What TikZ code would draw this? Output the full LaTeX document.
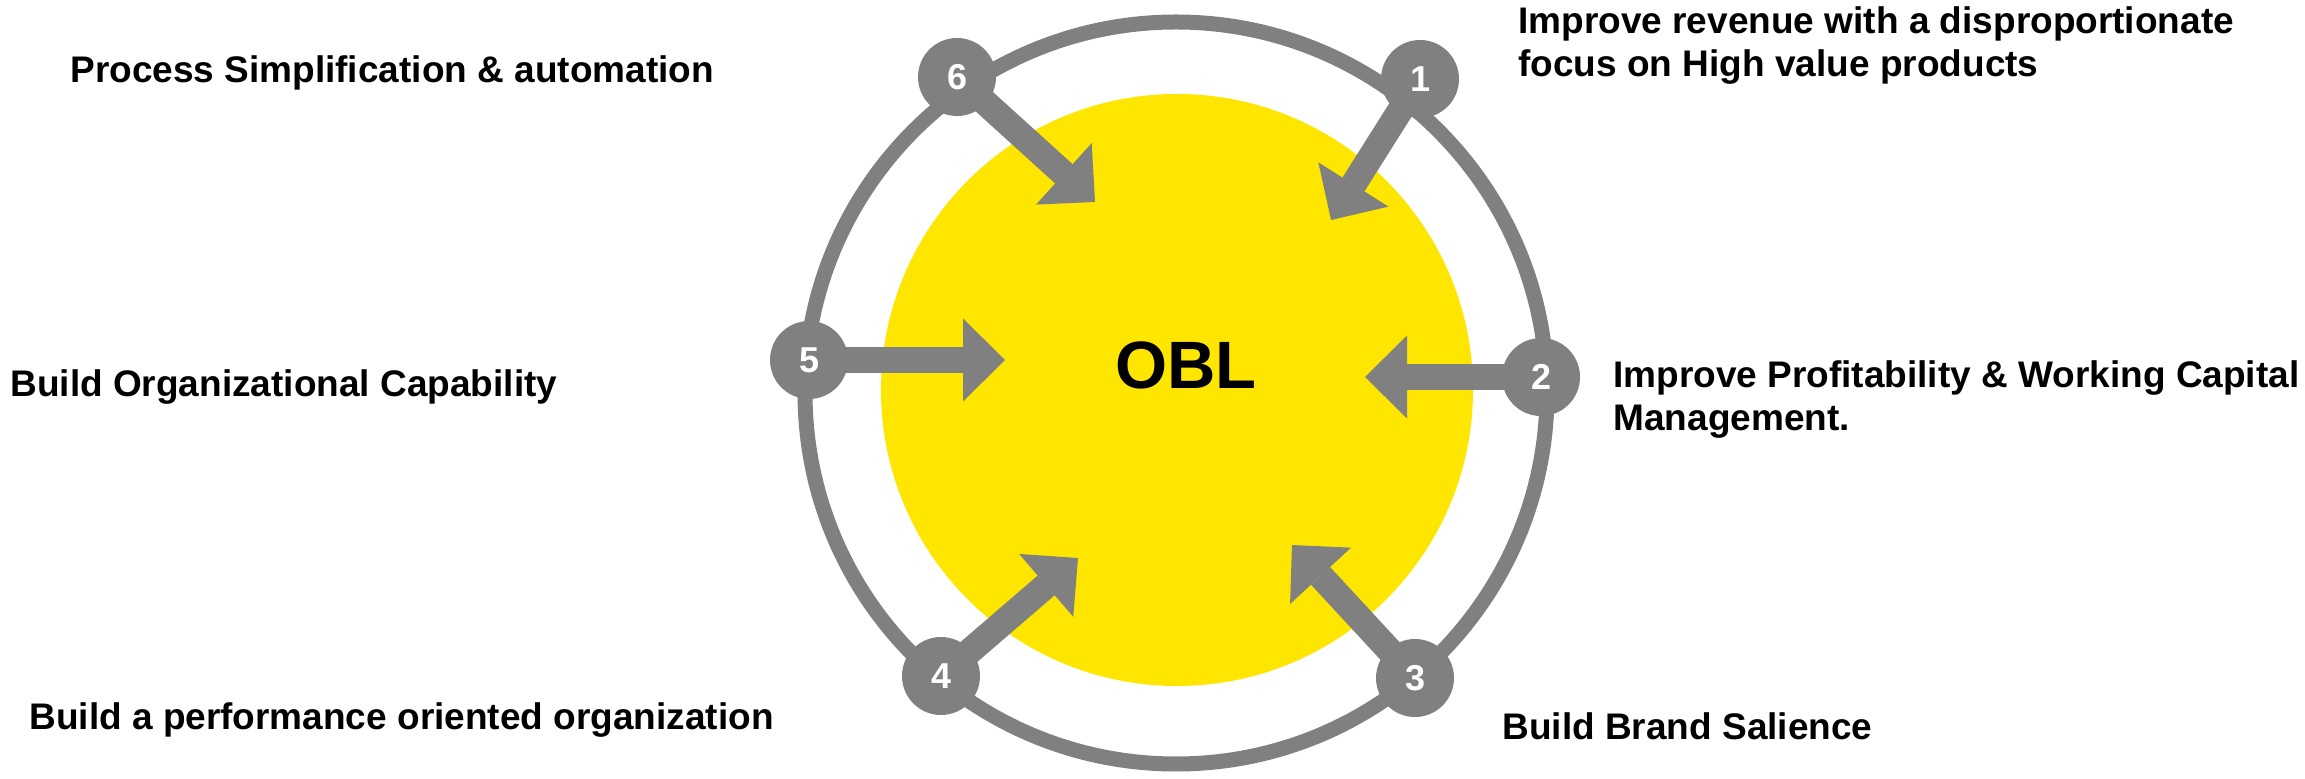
\documentclass[tikz,border=0pt]{standalone}
\usepackage{fontspec}
\setmainfont{Liberation Sans}
\usetikzlibrary{arrows.meta, backgrounds}
\definecolor{ringgray}{RGB}{128,128,128}
\definecolor{oblyellow}{RGB}{255,230,0}

\begin{document}
\begin{tikzpicture}[x=0.5pt, y=-0.5pt,
    num/.style={circle, fill=ringgray, text=white, minimum size=39pt,
                inner sep=0pt, font=\fontsize{18}{18}\selectfont\bfseries},
    goal/.style={anchor=west, align=left, inner sep=0pt,
                 font=\fontsize{18.5}{21.5}\selectfont\bfseries},
    push/.style={draw=ringgray, line width=13pt,
                 -{Triangle[length=21pt, width=41.5pt, line width=0pt]}}]
    \useasboundingbox (0,0) rectangle (2305,779);

    % Add the numbered points
        \node[num] (n1) at (1420,79) {1};
        \node[num] (n2) at (1541,377) {2};
        \node[num] (n3) at (1415,678) {3};
        \node[num] (n4) at (941,676) {4};
        \node[num] (n5) at (809,360) {5};
        \node[num] (n6) at (957,77) {6};

    % Where the arrows point to
        \coordinate (t1) at (1331,220);
        \coordinate (t2) at (1365,377);
        \coordinate (t3) at (1292,545);
        \coordinate (t4) at (1078,558);
        \coordinate (t5) at (1005,360);
        \coordinate (t6) at (1095,202);

    \begin{scope}[on background layer]
        \draw[ringgray, line width=7.5pt] (1176,393) circle[radius=185.5pt];
        \fill[oblyellow] (1177,390) circle[radius=148pt];
        \draw[push] (n1.center) -- (t1);
        \draw[push] (n2.center) -- (t2);
        \draw[push] (n3.center) -- (t3);
        \draw[push] (n4.center) -- (t4);
        \draw[push] (n5.center) -- (t5);
        \draw[push] (n6.center) -- (t6);
    \end{scope}

    \node[font=\fontsize{33.5}{33.5}\selectfont\bfseries] (obl) at (1186,365) {OBL};

    % Add the goals
        \node[goal] (g1) at (1518,46) {Improve revenue with a disproportionate\\focus on High value products};
        \node[goal] (g2) at (1613,400) {Improve Profitability \& Working Capital\\Management.};
        \node[goal] (g3) at (1502,726) {Build Brand Salience};
        \node[goal] (g4) at (29,720) {Build a performance oriented organization};
        \node[goal] (g5) at (10,387) {Build Organizational Capability};
        \node[goal] (g6) at (70,73) {Process Simplification \& automation};
\end{tikzpicture}
\end{document}
